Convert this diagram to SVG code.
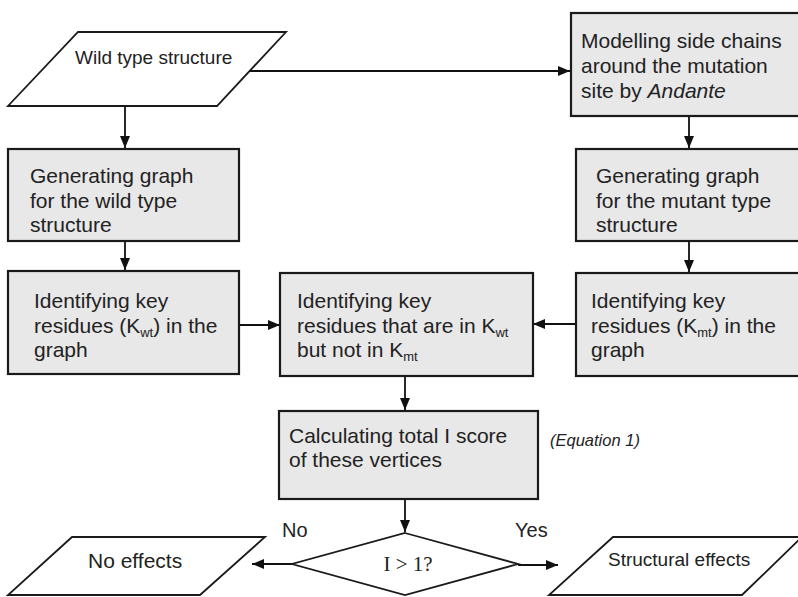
<svg xmlns="http://www.w3.org/2000/svg" width="798" height="597" viewBox="0 0 798 597">
<defs>
<marker id="ah" markerWidth="12" markerHeight="10" refX="12" refY="5" orient="auto" markerUnits="userSpaceOnUse">
<path d="M0,0 L12,5 L0,10 Z" fill="#111"/>
</marker>
<style>
.box{fill:#e8e8e8;stroke:#1a1a1a;stroke-width:2.2}
.io{fill:#fff;stroke:#1a1a1a;stroke-width:1.8}
.t{font-family:"Liberation Sans",Arial,sans-serif;font-size:21px;fill:#222}
.s{font-size:13px}
.c{fill:none;stroke:#111;stroke-width:1.8}
</style>
</defs>
<rect width="798" height="597" fill="#fff"/>
<g id="connectors">
<line class="c" x1="250" y1="71" x2="570" y2="71" marker-end="url(#ah)"/>
<line class="c" x1="125" y1="106" x2="125" y2="148" marker-end="url(#ah)"/>
<line class="c" x1="689" y1="116" x2="689" y2="148" marker-end="url(#ah)"/>
<line class="c" x1="125" y1="241" x2="125" y2="270" marker-end="url(#ah)"/>
<line class="c" x1="689" y1="241" x2="689" y2="272" marker-end="url(#ah)"/>
<line class="c" x1="239" y1="325" x2="280" y2="325" marker-end="url(#ah)"/>
<line class="c" x1="575" y1="324" x2="533" y2="324" marker-end="url(#ah)"/>
<line class="c" x1="405" y1="377" x2="405" y2="410" marker-end="url(#ah)"/>
<line class="c" x1="405" y1="500" x2="405" y2="532" marker-end="url(#ah)"/>
<line class="c" x1="292" y1="564" x2="252" y2="564" marker-end="url(#ah)"/>
<line class="c" x1="518" y1="565" x2="558" y2="565" marker-end="url(#ah)"/>
</g>
<g id="wild">
<polygon class="io" points="78,32 286,32 217,106 8,106"/>
<text class="t" x="75" y="64" style="font-size:19px">Wild type structure</text>
</g>
<g id="modelling">
<rect class="box" x="571" y="13" width="240" height="103"/>
<text class="t" x="581" y="48">Modelling side chains</text>
<text class="t" x="581" y="73">around the mutation</text>
<text class="t" x="581" y="98">site by <tspan font-style="italic">Andante</tspan></text>
</g>
<g id="genwild">
<rect class="box" x="8" y="149" width="231" height="92"/>
<text class="t" x="30" y="183">Generating graph</text>
<text class="t" x="30" y="208">for the wild type</text>
<text class="t" x="30" y="232">structure</text>
</g>
<g id="genmut">
<rect class="box" x="576" y="149" width="240" height="92"/>
<text class="t" x="596" y="183">Generating graph</text>
<text class="t" x="596" y="208">for the mutant type</text>
<text class="t" x="596" y="232">structure</text>
</g>
<g id="idwild">
<rect class="box" x="8" y="271" width="231" height="103"/>
<text class="t" x="34" y="308">Identifying key</text>
<text class="t" x="34" y="333">residues (K<tspan class="s" dy="4">wt</tspan><tspan dy="-4">) in the</tspan></text>
<text class="t" x="34" y="357">graph</text>
</g>
<g id="idboth">
<rect class="box" x="280" y="273" width="253" height="103"/>
<text class="t" x="297" y="308">Identifying key</text>
<text class="t" x="297" y="333">residues that are in K<tspan class="s" dy="4">wt</tspan></text>
<text class="t" x="297" y="357">but not in K<tspan class="s" dy="4">mt</tspan></text>
</g>
<g id="idmut">
<rect class="box" x="576" y="273" width="240" height="103"/>
<text class="t" x="591" y="308">Identifying key</text>
<text class="t" x="591" y="333">residues (K<tspan class="s" dy="4">mt</tspan><tspan dy="-4">) in the</tspan></text>
<text class="t" x="591" y="357">graph</text>
</g>
<g id="calc">
<rect class="box" x="279" y="411" width="259" height="88"/>
<text class="t" x="289" y="443">Calculating total I score</text>
<text class="t" x="289" y="467">of these vertices</text>
</g>
<g id="eq">
<text class="t" x="550" y="446" style="font-size:16.5px;font-style:italic">(Equation 1)</text>
</g>
<g id="decision">
<polygon class="io" points="405,533 518,564 405,595 292,564"/>
<text x="408" y="571" text-anchor="middle" style="font-family:'Liberation Serif','Times New Roman',serif;font-size:21px;fill:#222">I &gt; 1?</text>
<text class="t" x="282" y="537" style="font-size:20px">No</text>
<text class="t" x="515" y="537" style="font-size:20px">Yes</text>
</g>
<g id="noeff">
<polygon class="io" points="72,537 265,537 200,595 8,595"/>
<text class="t" x="88" y="568">No effects</text>
</g>
<g id="structeff">
<polygon class="io" points="613,537 802,537 742,595 549,595"/>
<text class="t" x="608" y="566" style="font-size:19px">Structural effects</text>
</g>
</svg>
